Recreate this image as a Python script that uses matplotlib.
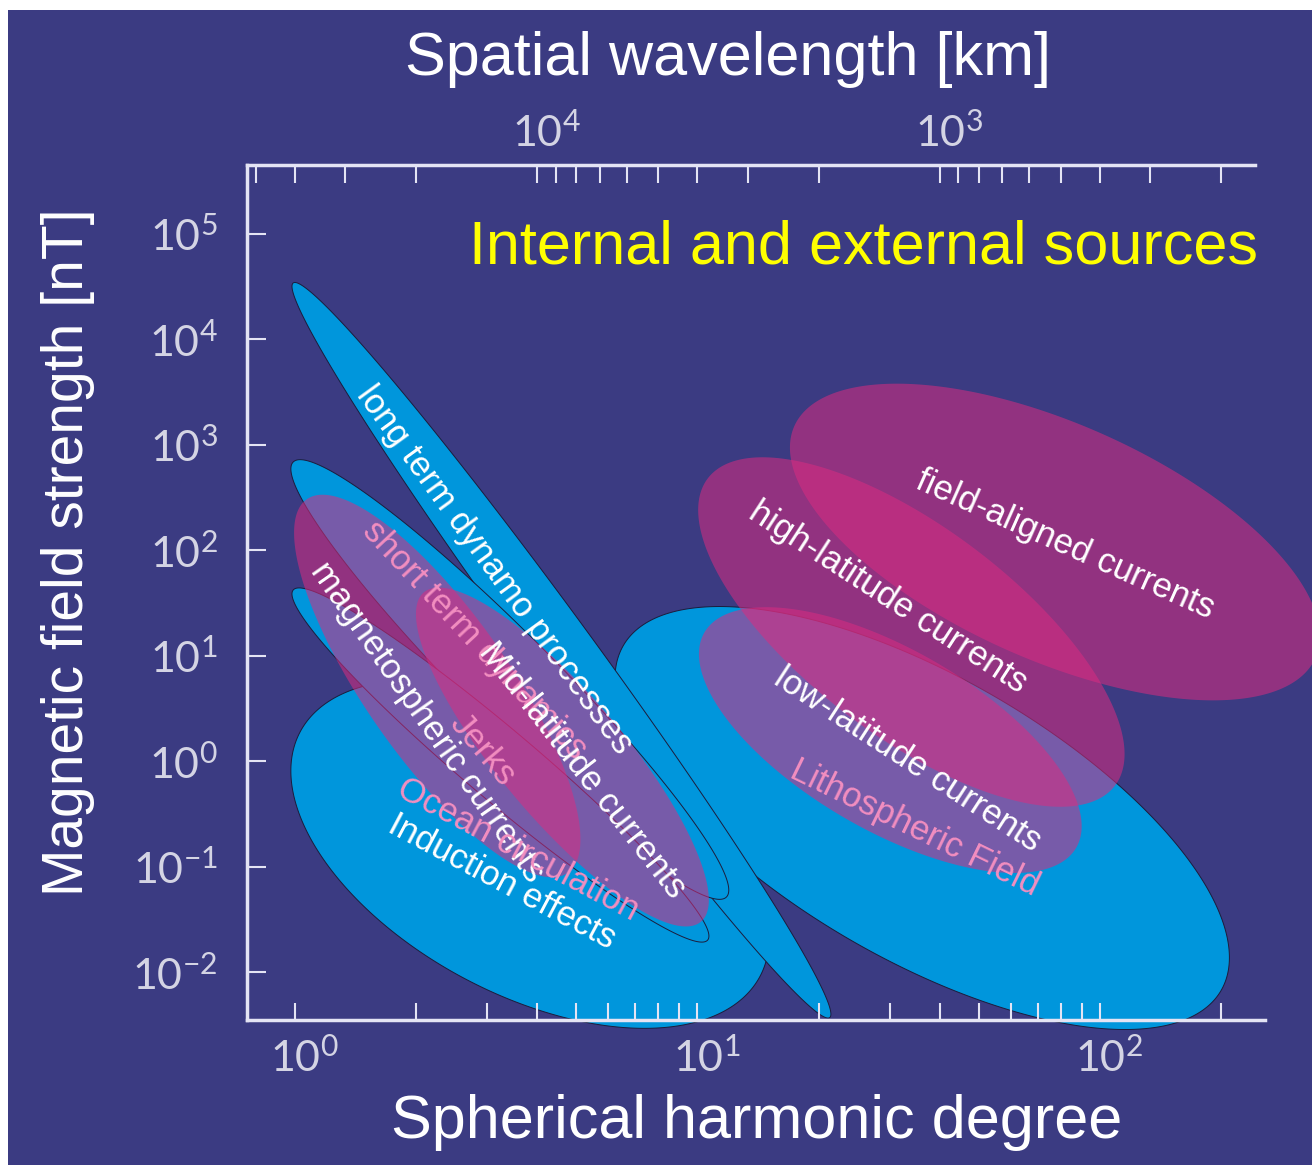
import numpy as np
import matplotlib
matplotlib.use("Agg")
import matplotlib.pyplot as plt
from matplotlib.patches import Rectangle
from matplotlib.ticker import NullFormatter, NullLocator
from matplotlib.transforms import ScaledTranslation

# ---- data -------------------------------------------------------------
# Each source region is an ellipse in log-log space, given by the two end
# points of its long axis (degree n, field strength in nT) and the ratio of
# its short axis to its long axis.
internal_n1 = [1.03, 6.54, 0.99, 0.99, 0.99]
internal_b1 = [1.89, 12.4, 3.4e4, 683.0, 41.8]
internal_n2 = [14.3, 200.0, 21.3, 11.8, 10.6]
internal_b2 = [0.0091, 0.0067, 0.0037, 0.0514, 0.0201]
internal_ratio = [0.54, 0.41, 0.07, 0.147, 0.13]

external_n1 = [1.07, 2.09, 10.6, 10.4, 17.4]
external_b1 = [303.0, 39.7, 476.0, 16.5, 1494.0]
external_n2 = [4.76, 10.2, 109.0, 87.3, 343.0]
external_b2 = [0.0872, 0.030, 0.586, 0.151, 9.49]
external_ratio = [0.316, 0.288, 0.41, 0.42, 0.414]

label_text = ["long term dynamo processes", "short term dynamics",
              "magnetospheric currents", "Mid-latitude currents", "Jerks",
              "Ocean circulation", "Induction effects",
              "field-aligned currents", "high-latitude currents",
              "low-latitude currents", "Lithospheric Field"]
label_n = [3.14, 2.80, 2.13, 5.19, 2.93, 3.58, 3.27, 81.9, 29.7, 33.3, 34.7]
label_b = [64.6, 14.0, 2.34, 0.822, 1.27, 0.143, 0.0713, 111.5, 35.8, 1.02, 0.232]
label_rot = [-54, -47, -55, -52, -50, -28, -28, -24, -33, -33, -26]
label_pink = [False, True, False, False, True, True, False, False, False, False, True]

y_ticks = [1e-2, 1e-1, 1e0, 1e1, 1e2, 1e3, 1e4, 1e5]
y_exponents = [-2, -1, 0, 1, 2, 3, 4, 5]
x_major = [1, 10, 100]
x_exponents = [0, 1, 2]
x_minor = [2, 3, 4, 5, 6, 7, 8, 9, 20, 30, 40, 50, 60, 70, 80, 90, 200]
km_major = [1e4, 1e3]
km_exponents = [4, 3]
km_minor = [5e4, 4e4, 3e4, 2e4, 9e3, 8e3, 7e3, 6e3, 5e3, 4e3, 3e3, 2e3,
            900, 800, 700, 600, 500, 400, 300, 200]
earth_circumference_km = 40000.0


def power_label(e):
    return r"$\mathregular{10^{%d}}$" % e


# ---- style ------------------------------------------------------------
NAVY = "#3b3b82"
BLUE = "#0096dc"
PINK = "#da2c80"
PINK_TEXT = "#f28ec0"
AXIS_COL = "#e4e4f4"
TICK_TXT = "#d4d4e4"
SANS = ["Liberation Sans", "DejaVu Sans"]
THIN = ["Lato", "DejaVu Sans"]

W, H = 1312, 1165
fig = plt.figure(figsize=(W / 100, H / 100), dpi=100, facecolor="white")
fig.add_artist(Rectangle((8 / W, 0), 1 - 8 / W, 1 - 10 / H, transform=fig.transFigure,
                         facecolor=NAVY, edgecolor="none", zorder=-10))

ax = fig.add_axes([247 / W, 1 - 1020 / H, (1265 - 247) / W, (1020 - 165) / H])
ax.patch.set_visible(False)
ax.set_xscale("log")
ax.set_yscale("log")
ax.set_xlim(0.760, 257.0)
ax.set_ylim(3.51e-3, 4.46e5)


def ellipse_outline(p1, p2, ratio, npts=600):
    """Outline of an ellipse whose long axis joins p1 and p2 on screen."""
    d1, d2 = ax.transData.transform([p1, p2])
    c = (d1 + d2) / 2
    v = (d2 - d1) / 2
    w = np.array([-v[1], v[0]]) * ratio
    t = np.linspace(0, 2 * np.pi, npts)
    pts = c + np.outer(np.cos(t), v) + np.outer(np.sin(t), w)
    return ax.transData.inverted().transform(pts)


for n1, b1, n2, b2, r in zip(internal_n1, internal_b1, internal_n2, internal_b2, internal_ratio):
    pts = ellipse_outline((n1, b1), (n2, b2), r)
    ax.fill(pts[:, 0], pts[:, 1], facecolor=BLUE, edgecolor="#1c1c3c",
            linewidth=0.7, clip_on=False, zorder=1)

for n1, b1, n2, b2, r in zip(external_n1, external_b1, external_n2, external_b2, external_ratio):
    pts = ellipse_outline((n1, b1), (n2, b2), r)
    ax.fill(pts[:, 0], pts[:, 1], facecolor=PINK, edgecolor="none", alpha=0.55,
            clip_on=False, zorder=2)

for txt, n, b, rot, pink in zip(label_text, label_n, label_b, label_rot, label_pink):
    ax.text(n, b, txt, rotation=rot, rotation_mode="anchor", ha="center", va="center",
            fontsize=25, family=SANS, color=PINK_TEXT if pink else "white", zorder=3)

# ---- axes -------------------------------------------------------------
for side in ("top", "right"):
    ax.spines[side].set_visible(False)
for side in ("left", "bottom"):
    ax.spines[side].set_color(AXIS_COL)
    ax.spines[side].set_linewidth(2.5)

tick_font = dict(fontsize=31, family=THIN, fontweight="normal", color=TICK_TXT)
ax.set_yticks(y_ticks, [power_label(e) for e in y_exponents], **tick_font)
ax.yaxis.set_minor_locator(NullLocator())
ax.set_xticks(x_major, [power_label(e) for e in x_exponents], **tick_font)
ax.set_xticks(x_minor, minor=True)
ax.xaxis.set_minor_formatter(NullFormatter())
ax.tick_params(axis="y", which="major", direction="in", length=14, width=1.5,
               color=AXIS_COL, pad=21, right=False)
ax.tick_params(axis="x", which="both", direction="in", length=12, width=1.5,
               color=AXIS_COL, pad=12, top=False)

sec = ax.secondary_xaxis("top", functions=(lambda n: earth_circumference_km / n,
                                           lambda km: earth_circumference_km / km))
sec.set_xticks(km_major, [power_label(e) for e in km_exponents], **tick_font)
sec.set_xticks(km_minor, minor=True)
sec.xaxis.set_minor_formatter(NullFormatter())
sec.tick_params(axis="x", which="both", direction="in", length=13, width=1.5,
                color=AXIS_COL, pad=8)
sec.spines["top"].set_color(AXIS_COL)
sec.spines["top"].set_linewidth(2.5)
sec.spines["top"].set_bounds(earth_circumference_km / 242.7, earth_circumference_km / 0.760)

# keep the "10" of each power-of-ten label centred on its tick, the exponent
# hanging to the right
shift = ScaledTranslation(0.09, 0, fig.dpi_scale_trans)
for tick in ax.xaxis.get_major_ticks() + sec.xaxis.get_major_ticks():
    tick.label1.set_transform(tick.label1.get_transform() + shift)
    tick.label2.set_transform(tick.label2.get_transform() + shift)

fig.text(728 / W, 1 - 75 / H, "Spatial wavelength [km]", ha="center", va="baseline",
         fontsize=44, family=SANS, color="white")
fig.text(757 / W, 1 - 1138 / H, "Spherical harmonic degree", ha="center", va="baseline",
         fontsize=44, family=SANS, color="white")
fig.text(83 / W, 1 - 552 / H, "Magnetic field strength [nT]", rotation=90,
         rotation_mode="anchor", ha="center", va="baseline",
         fontsize=41, family=SANS, color="white")
fig.text(1258 / W, 1 - 263 / H, "Internal and external sources", ha="right", va="baseline",
         fontsize=44, family=SANS, color="#ffff00")

fig.savefig("out.png", dpi=100, facecolor=fig.get_facecolor())
